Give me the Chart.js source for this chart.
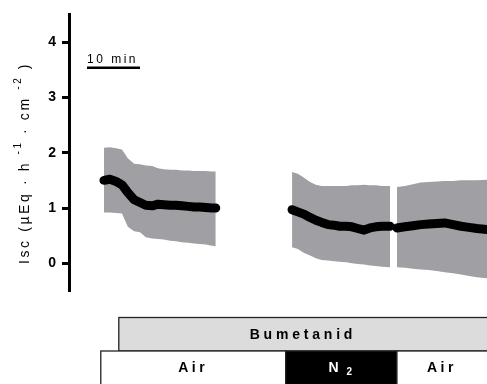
<!DOCTYPE html>
<html>
<head>
<meta charset="utf-8">
<script src="https://cdn.jsdelivr.net/npm/chart.js@4"></script>
<style>
  html, body { margin: 0; padding: 0; background: #fff; }
  #wrap { width: 487px; height: 384px; }
</style>
</head>
<body>
<div id="wrap"><canvas id="isc"></canvas></div>
<script>
// Isc recording, three blocks: time (min), mean, and the upper / lower edge of the grey band
const block1Time  = [6.6, 7.7, 8.9, 10.0, 11.1, 12.3, 13.4, 14.5, 15.7, 16.8, 17.9, 19.1, 20.2, 21.3, 22.5, 23.6, 24.7, 25.8, 27.0, 27.7];
const block1Mean  = [1.50, 1.52, 1.48, 1.42, 1.28, 1.15, 1.10, 1.05, 1.04, 1.07, 1.06, 1.05, 1.05, 1.04, 1.03, 1.02, 1.02, 1.01, 1.00, 1.00];
const block1Upper = [2.09, 2.10, 2.08, 2.06, 1.90, 1.80, 1.79, 1.77, 1.76, 1.72, 1.70, 1.69, 1.69, 1.68, 1.68, 1.67, 1.67, 1.67, 1.66, 1.66];
const block1Lower = [0.92, 0.92, 0.91, 0.90, 0.66, 0.58, 0.56, 0.47, 0.45, 0.44, 0.43, 0.41, 0.40, 0.38, 0.37, 0.36, 0.35, 0.34, 0.32, 0.31];

const block2Time  = [42.1, 43.2, 44.3, 45.5, 46.6, 47.7, 48.9, 50.0, 51.1, 52.3, 53.4, 54.5, 55.7, 56.8, 57.9, 59.1, 60.6];
const block2Mean  = [0.97, 0.93, 0.89, 0.83, 0.78, 0.74, 0.70, 0.69, 0.67, 0.67, 0.66, 0.63, 0.60, 0.64, 0.66, 0.67, 0.67];
const block2Upper = [1.65, 1.62, 1.55, 1.47, 1.42, 1.40, 1.40, 1.40, 1.40, 1.40, 1.41, 1.41, 1.42, 1.41, 1.41, 1.40, 1.40];
const block2Lower = [0.29, 0.26, 0.19, 0.14, 0.09, 0.06, 0.05, 0.04, 0.03, 0.02, 0.00, -0.01, -0.02, -0.04, -0.05, -0.06, -0.07];

const block3Time  = [61.9, 63.4, 64.9, 66.4, 67.9, 69.4, 70.9, 72.5, 74.0, 75.5, 77.0, 78.9];
const block3Mean  = [0.64, 0.66, 0.68, 0.70, 0.71, 0.72, 0.73, 0.70, 0.67, 0.65, 0.63, 0.61];
const block3Upper = [1.38, 1.40, 1.43, 1.46, 1.47, 1.48, 1.49, 1.49, 1.50, 1.50, 1.50, 1.51];
const block3Lower = [-0.07, -0.08, -0.10, -0.11, -0.12, -0.14, -0.16, -0.18, -0.20, -0.23, -0.25, -0.27];

const yTicks = [0, 1, 2, 3, 4];

// protocol bars under the trace (min)
const gasLabels = ["Air", "N2", "Air"];
const gasStart  = [6.0, 40.9, 61.9];
const gasEnd    = [40.9, 61.9, 95];
const drugLabel = "Bumetanid";
const drugStart = 9.4;

// 10 min scale bar
const scaleBarFrom = 3.4;
const scaleBarTo = 13.4;
const scaleBarLevel = 3.54;
const scaleBarLabel = "10 min";

const FONT = '"Liberation Sans", Arial, sans-serif';
const BAND = "rgb(160,160,164)";

const blocks = [
  [block1Time, block1Mean, block1Upper, block1Lower],
  [block2Time, block2Mean, block2Upper, block2Lower],
  [block3Time, block3Mean, block3Upper, block3Lower],
];

const pts = (t, v) => t.map((x, i) => ({ x: x, y: v[i] }));

const datasets = [];
blocks.forEach(([t, mean, up, lo]) => {
  datasets.push({ data: pts(t, up), borderWidth: 0, backgroundColor: BAND, fill: "+1", pointRadius: 0, order: 2 });
  datasets.push({ data: pts(t, lo), borderWidth: 0, backgroundColor: BAND, fill: false, pointRadius: 0, order: 2 });
  datasets.push({
    data: pts(t, mean), borderColor: "#000", borderWidth: 9, fill: false, pointRadius: 0,
    borderCapStyle: "round", borderJoinStyle: "round", tension: 0, order: 1,
  });
});

// draws text piece by piece, with sub/superscripts
function drawPieces(ctx, pieces, cx, cy, spacing) {
  let total = 0;
  pieces.forEach(p => {
    ctx.font = p.font;
    ctx.letterSpacing = spacing + "px";
    p.w = ctx.measureText(p.text).width;
    total += p.w;
  });
  let x = cx - total / 2;
  pieces.forEach(p => {
    ctx.font = p.font;
    ctx.letterSpacing = spacing + "px";
    ctx.fillText(p.text, x, cy + (p.dy || 0));
    x += p.w;
  });
}

const decorations = {
  id: "decorations",
  afterDraw(chart) {
    const ctx = chart.ctx;
    const xs = chart.scales.x;
    const ys = chart.scales.y;
    const area = chart.chartArea;
    ctx.save();
    ctx.textBaseline = "middle";
    ctx.textAlign = "left";
    ctx.fillStyle = "#000";

    // y axis title
    ctx.save();
    ctx.translate(25, 163);
    ctx.rotate(-Math.PI / 2);
    const reg = "14px " + FONT, sup = "10px " + FONT;
    drawPieces(ctx, [
      { text: "Isc (µEq · h ", font: reg },
      { text: "-1", font: sup, dy: -7 },
      { text: " · cm ", font: reg },
      { text: "-2", font: sup, dy: -7 },
      { text: " )", font: reg },
    ], 0, 0, 2.6);
    ctx.restore();

    // scale bar
    const sb0 = xs.getPixelForValue(scaleBarFrom), sb1 = xs.getPixelForValue(scaleBarTo);
    const sby = ys.getPixelForValue(scaleBarLevel);
    ctx.fillRect(sb0, sby - 1, sb1 - sb0, 2.5);
    ctx.font = "12px " + FONT;
    ctx.letterSpacing = "2.5px";
    ctx.textBaseline = "alphabetic";
    ctx.fillText(scaleBarLabel, sb0, sby - 5);
    ctx.textBaseline = "middle";

    // protocol bars
    const W = chart.width;
    const r1Top = area.bottom + 26.5, r2Top = area.bottom + 60, r2Bot = chart.height + 5;
    ctx.lineWidth = 1.3;
    ctx.strokeStyle = "#222";

    const d0 = xs.getPixelForValue(drugStart);
    ctx.fillStyle = "#dcdcdc";
    ctx.fillRect(d0, r1Top, W + 5 - d0, r2Top - r1Top);
    ctx.strokeRect(d0, r1Top, W + 5 - d0, r2Top - r1Top);
    ctx.fillStyle = "#000";
    drawPieces(ctx, [{ text: drugLabel, font: "bold 14px " + FONT }], (d0 + W) / 2, (r1Top + r2Top) / 2 + 1, 3.8);

    gasLabels.forEach((g, i) => {
      const a = xs.getPixelForValue(gasStart[i]);
      const b = Math.min(xs.getPixelForValue(gasEnd[i]), W + 5);
      const dark = g !== "Air";
      ctx.fillStyle = dark ? "#000" : "#fff";
      ctx.fillRect(a, r2Top, b - a, r2Bot - r2Top);
      ctx.strokeRect(a, r2Top, b - a, r2Bot - r2Top);
      ctx.fillStyle = dark ? "#fff" : "#000";
      const cx = (a + Math.min(b, W)) / 2, cy = r2Top + 17;
      if (g === "N2") {
        drawPieces(ctx, [
          { text: "N ", font: "bold 14px " + FONT },
          { text: "2", font: "bold 10px " + FONT, dy: 4 },
        ], cx, cy, 2);
      } else {
        drawPieces(ctx, [{ text: g, font: "bold 14px " + FONT }], cx, cy, 3.5);
      }
    });
    ctx.restore();
  },
};

new Chart(document.getElementById("isc").getContext("2d"), {
  type: "line",
  data: { datasets: datasets },
  options: {
    responsive: true,
    maintainAspectRatio: false,
    animation: false,
    layout: { padding: { left: 0, right: 0, top: 9, bottom: 93 } },
    scales: {
      x: { type: "linear", min: 0, max: 78.9, display: false },
      y: {
        min: -0.5,
        max: 4.5,
        afterBuildTicks: (scale) => { scale.ticks = yTicks.map(v => ({ value: v })); },
        afterFit: (scale) => { scale.width = 69; },
        border: { display: true, color: "#000", width: 3 },
        grid: { drawOnChartArea: false, drawTicks: true, tickLength: 7, tickWidth: 3, tickColor: "#000" },
        ticks: { color: "#000", padding: 6, font: { family: FONT, size: 14, weight: "bold" } },
      },
    },
    plugins: {
      legend: { display: false },
      tooltip: { enabled: false },
    },
  },
  plugins: [decorations],
});
</script>
</body>
</html>
